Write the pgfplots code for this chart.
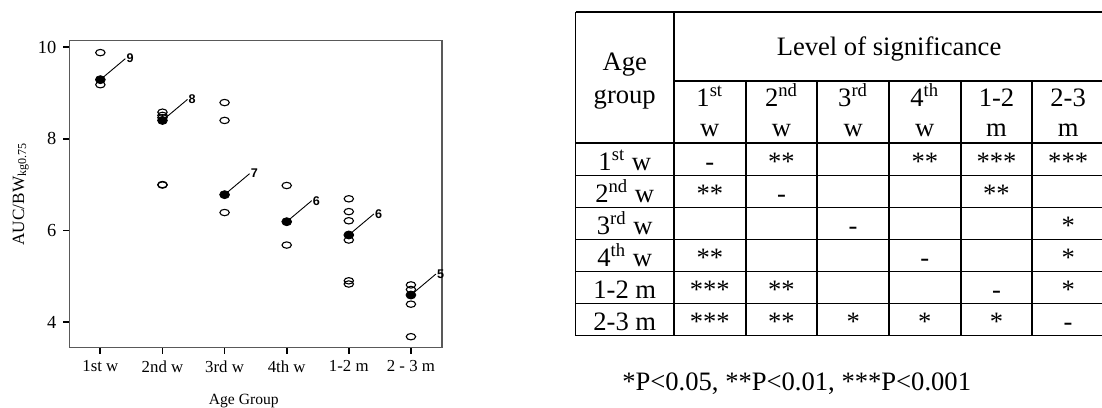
\documentclass[border=0pt]{standalone}
\usepackage{pgfplots}
\pgfplotsset{compat=1.18}
\usepackage{pgfplotstable}
\usepackage{fontspec}
\setmainfont{Liberation Serif}
\newfontfamily\sansb{Liberation Sans}

% individual values
\pgfplotstableread{
x y
0 9.88
0 9.18
1 8.58
1 8.51
1 8.46
1 6.99
1 7.00
2 8.79
2 8.40
2 6.39
3 6.98
3 5.68
4 6.69
4 6.41
4 6.21
4 5.79
4 4.90
4 4.83
5 4.81
5 4.71
5 4.39
5 3.68
}\opendata

% group means and n
\pgfplotstableread{
x y n
0 9.29 9
1 8.40 8
2 6.78 7
3 6.19 6
4 5.90 6
5 4.59 5
}\meandata

\newcommand\tabfont{\fontsize{13.3}{16}\selectfont}
\newcommand\cell[3]{\node[anchor=base,font=\tabfont,inner sep=0pt] at ({709.8+71.67*(#1-1)},{170.5+32*(#2-1)}) {#3};}
\newcommand\nlab[3]{\draw[line width=0.45pt] (axis cs:#1,#2) -- ++(12.5pt,10.5pt)
  node[anchor=west,inner sep=0.4pt,font=\sansb\bfseries\fontsize{6.3}{7}\selectfont]{#3};}

\begin{document}
\begin{tikzpicture}
\path[use as bounding box] (0,0) rectangle (551pt,203.5pt);

\begin{axis}[
  at={(34.65pt,29.65pt)}, anchor=south west,
  scale only axis, width=186.35pt, height=153.5pt,
  xmin=-0.5, xmax=5.5, ymin=3.44, ymax=10.14,
  xtick={0,...,5},
  xticklabels={1st w,2nd w,3rd w,4th w,1-2 m,2 - 3 m},
  ytick={4,6,8,10},
  xtick pos=bottom, ytick pos=left,
  tick align=outside, major tick length=3pt,
  tick style={black,line width=0.9pt},
  axis line style={draw=black!65,line width=0.55pt},
  xticklabel style={font=\fontsize{8.4}{9}\selectfont},
  yticklabel style={font=\fontsize{9.2}{10}\selectfont},
  /pgf/number format/assume math mode=true,
  clip=false]
  \addplot[only marks, mark=o, mark size=2.35pt,
    mark options={yscale=0.68,line width=0.55pt}] table[x=x,y=y]{\opendata};
  \addplot[only marks, mark=*, mark size=2.45pt,
    mark options={yscale=0.82}] table[x=x,y=y]{\meandata};
  \nlab{0}{9.29}{9}
  \nlab{1}{8.40}{8}
  \nlab{2}{6.78}{7}
  \nlab{3}{6.19}{6}
  \nlab{4}{5.90}{6}
  \nlab{5}{4.59}{5}
\end{axis}

% axis titles
\node[rotate=90,anchor=base,font=\fontsize{8.6}{9}\selectfont] at (12pt,106.5pt) {AUC/BW\textsubscript{kg0.75}};
\node[anchor=base,font=\fontsize{7.8}{9}\selectfont] at (121.9pt,1.35pt) {Age Group};

% significance table
\begin{scope}[x=0.5pt,y=-0.5pt,yshift=203.5pt]
  \draw[line width=0.9pt] (575.5,12) -- (1110,12);
  \draw[line width=0.9pt] (674,81) -- (1110,81);
  \foreach \yy in {143.3,175.5,207.5,239.5,271.5,303.5,335.5}
    \draw[line width=0.9pt] (575.5,\yy) -- (1110,\yy);
  \draw[line width=0.9pt] (575.5,12) -- (575.5,335.5);
  \draw[line width=0.9pt] (674,12) -- (674,335.5);
  \foreach \xx in {745.7,817.3,889,960.7,1032.3,1104}
    \draw[line width=0.9pt] (\xx,81) -- (\xx,335.5);

  \node[anchor=base,font=\tabfont,inner sep=0pt] at (624.75,71) {Age};
  \node[anchor=base,font=\tabfont,inner sep=0pt] at (624.75,103.3) {group};
  \node[anchor=base,font=\tabfont,inner sep=0pt] at (889,56) {Level of significance};

  \foreach \t [count=\c] in {1\textsuperscript{st},2\textsuperscript{nd},3\textsuperscript{rd},4\textsuperscript{th},1-2,2-3}
    \node[anchor=base,font=\tabfont,inner sep=0pt] at ({709.8+71.67*(\c-1)},106.7) {\t};
  \foreach \t [count=\c] in {w,w,w,w,m,m}
    \node[anchor=base,font=\tabfont,inner sep=0pt] at ({709.8+71.67*(\c-1)},136.2) {\t};

  \foreach \t [count=\r] in {1\textsuperscript{st} w,2\textsuperscript{nd} w,3\textsuperscript{rd} w,4\textsuperscript{th} w,1-2 m,2-3 m}
    \node[anchor=base,font=\tabfont,inner sep=0pt] at (624.75,{170.5+32*(\r-1)}) {\t};

  \cell{1}{1}{-}\cell{2}{1}{**}\cell{4}{1}{**}\cell{5}{1}{***}\cell{6}{1}{***}
  \cell{1}{2}{**}\cell{2}{2}{-}\cell{5}{2}{**}
  \cell{3}{3}{-}\cell{6}{3}{*}
  \cell{1}{4}{**}\cell{4}{4}{-}\cell{6}{4}{*}
  \cell{1}{5}{***}\cell{2}{5}{**}\cell{5}{5}{-}\cell{6}{5}{*}
  \cell{1}{6}{***}\cell{2}{6}{**}\cell{3}{6}{*}\cell{4}{6}{*}\cell{5}{6}{*}\cell{6}{6}{-}

  \node[anchor=base,font=\fontsize{13.3}{16}\selectfont,inner sep=0pt] at (796.7,390) {*P<0.05, **P<0.01, ***P<0.001};
\end{scope}
\end{tikzpicture}
\end{document}
